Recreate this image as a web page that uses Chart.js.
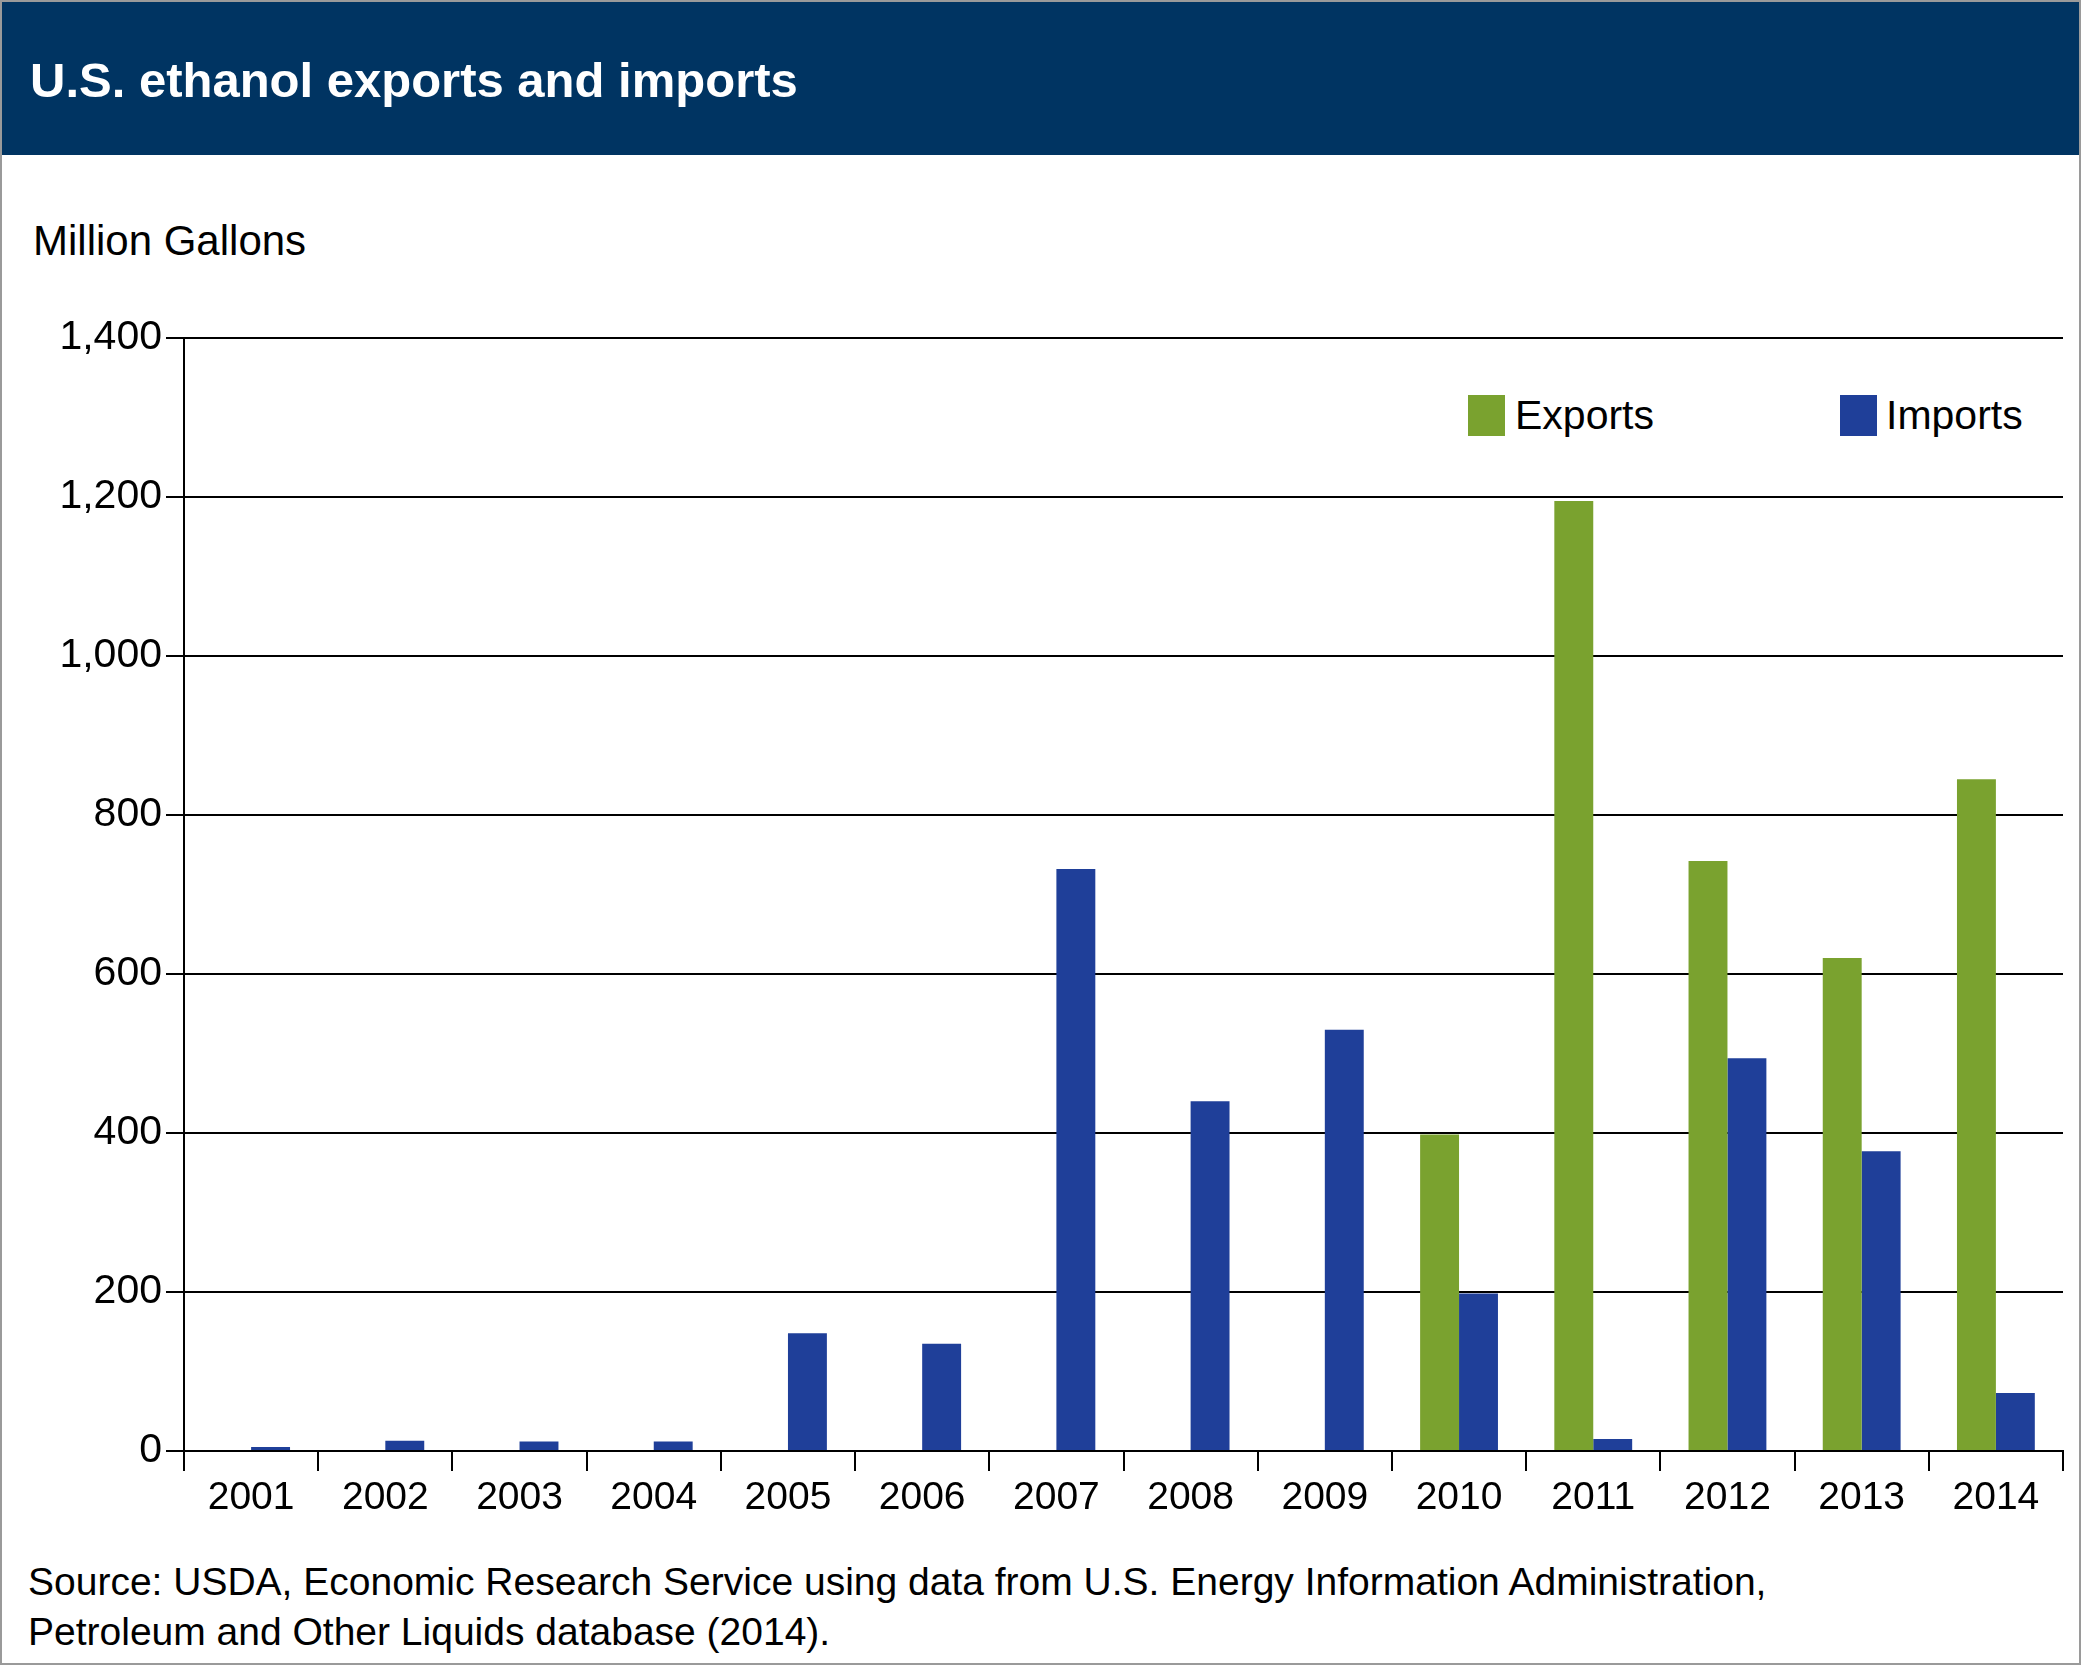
<!DOCTYPE html>
<html>
<head>
<meta charset="utf-8">
<script src="https://cdn.jsdelivr.net/npm/chart.js@4/dist/chart.umd.min.js"></script>
<style>
  body { margin: 0; background: #fff; font-family: "Liberation Sans", Arial, sans-serif; }
  #wrap { position: relative; width: 2081px; height: 1665px; overflow: hidden; box-sizing: border-box; border: 2px solid #9a9a9a; }
  #head { position: absolute; left: 0; top: 0; width: 2081px; height: 153px; background: #003462; }
  #head span { position: absolute; left: 28px; top: 50px; color: #fff; font-weight: bold; font-size: 49px; }
  .txt { position: absolute; color: #000; font-size: 41px; white-space: nowrap; }
  .sw { position: absolute; width: 37px; height: 41px; }
  canvas { position: absolute; left: 0; top: 0; }
</style>
</head>
<body>
<div id="wrap">
  <div id="head"><span>U.S. ethanol exports and imports</span></div>
  <div class="txt" style="left:31px; top:215px; font-size:42px;">Million Gallons</div>
  <div class="sw" style="left:1466px; top:393px; background:#7aa22f;"></div>
  <div class="txt" style="left:1513px; top:390px;">Exports</div>
  <div class="sw" style="left:1838px; top:393px; background:#1f3f99;"></div>
  <div class="txt" style="left:1884px; top:390px;">Imports</div>
  <div class="txt" style="left:26px; top:1555px; font-size:39px; line-height:50px;">Source: USDA, Economic Research Service using data from U.S. Energy Information Administration,<br>Petroleum and Other Liquids database (2014).</div>
  <canvas id="chart" width="2081" height="1665"></canvas>
</div>
<script>
const years = ['2001','2002','2003','2004','2005','2006','2007','2008','2009','2010','2011','2012','2013','2014'];
const exportsData = [0, 0, 0, 0, 0, 0, 0, 0, 0, 398, 1195, 742, 620, 845];
const importsData = [5, 13, 12, 12, 148, 135, 732, 440, 530, 198, 15, 494, 377, 73];

const ctx = document.getElementById('chart').getContext('2d');
new Chart(ctx, {
    type: 'bar',
    data: {
        labels: years,
        datasets: [
            { label: 'Exports', data: exportsData, backgroundColor: '#7aa22f' },
            { label: 'Imports', data: importsData, backgroundColor: '#1f3f99' }
        ]
    },
    options: {
        responsive: false,
        animation: false,
        categoryPercentage: 0.58,
        barPercentage: 1,
        layout: { padding: { top: 336, right: 20, bottom: 136, left: 0 } },
        plugins: { legend: { display: false }, tooltip: { enabled: false } },
        scales: {
            x: {
                afterFit: (s) => { s.height = 80; },
                grid: { offset: true, drawOnChartArea: false, tickLength: 20, color: '#000', lineWidth: 2 },
                border: { color: '#000', width: 2 },
                ticks: { color: '#000', font: { family: 'Liberation Sans', size: 39 }, padding: 4, maxRotation: 0 }
            },
            y: {
                min: 0, max: 1400,
                afterFit: (s) => { s.width = 182; },
                grid: { color: '#000', lineWidth: 2, tickLength: 18 },
                border: { color: '#000', width: 2 },
                ticks: { stepSize: 200, color: '#000', font: { family: 'Liberation Sans', size: 41 }, padding: 4 }
            }
        }
    }
});
</script>
</body>
</html>
